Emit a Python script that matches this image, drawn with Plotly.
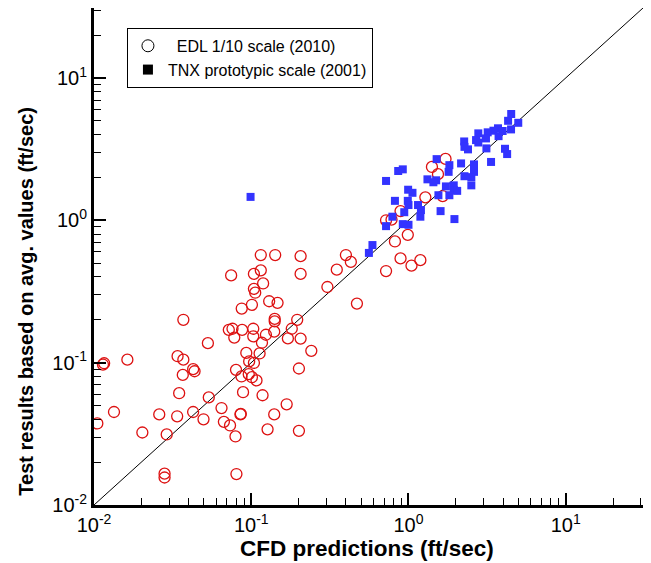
import plotly.graph_objects as go

# EDL 1/10 scale (2010) - open red circles
edl_x = [0.115, 0.142, 0.206, 0.40, 0.43, 0.0745, 0.104, 0.115, 0.206, 0.35,
         0.305, 0.119, 0.104, 0.106, 0.13, 0.147, 0.101, 0.087, 0.037, 0.141,
         0.141, 0.196, 0.072, 0.076, 0.0875, 0.103, 0.078, 0.103, 0.124, 0.14,
         0.181, 0.171, 0.206, 0.117, 0.053, 0.241, 0.113, 0.093, 0.034, 0.037,
         0.0163, 0.0114, 0.0116, 0.097, 0.104, 0.080, 0.201, 0.0427, 0.0436, 0.0367,
         0.0867, 0.0964, 0.101, 0.108, 0.0348, 0.0887, 0.118, 0.0537, 0.0134, 0.026,
         0.0338, 0.0427, 0.0647, 0.0854, 0.0858, 0.14, 0.168, 0.0497, 0.0105, 0.067,
         0.0733, 0.0203, 0.029, 0.0794, 0.127, 0.201, 0.0281, 0.0281, 0.0805,
         1.72, 1.41, 1.54, 1.28, 1.65, 0.89, 0.72, 0.78, 0.99, 0.82,
         0.89, 1.045, 1.19, 0.72, 0.47]
edl_y = [0.57, 0.57, 0.56, 0.57, 0.51, 0.41, 0.42, 0.445, 0.42, 0.45,
         0.34, 0.36, 0.33, 0.31, 0.27, 0.263, 0.255, 0.24, 0.20, 0.203,
         0.195, 0.20, 0.17, 0.173, 0.17, 0.173, 0.15, 0.153, 0.157, 0.165,
         0.173, 0.148, 0.1475, 0.138, 0.137, 0.121, 0.116, 0.117, 0.111, 0.105,
         0.105, 0.097, 0.099, 0.102, 0.0995, 0.089, 0.091, 0.090, 0.087, 0.082,
         0.080, 0.083, 0.079, 0.075, 0.061, 0.062, 0.059, 0.057, 0.045, 0.0433,
         0.042, 0.045, 0.048, 0.0433, 0.0437, 0.0433, 0.051, 0.040, 0.0374, 0.0384,
         0.0362, 0.0323, 0.0313, 0.0303, 0.034, 0.0332, 0.0166, 0.0156, 0.0165,
         2.70, 2.37, 2.11, 1.45, 1.48, 1.16, 1.0, 1.01, 0.79, 0.71,
         0.54, 0.48, 0.525, 0.44, 0.26]

# TNX prototypic scale (2001) - filled blue squares
tnx_x = [0.099, 4.5, 4.3, 4.99, 3.71, 3.97, 4.49, 3.47, 3.19, 2.78,
         3.74, 3.11, 2.78, 2.69, 2.26, 2.27, 2.39, 3.13, 4.11, 4.24,
         3.35, 1.51, 1.82, 2.16, 2.61, 0.86, 0.92, 1.80, 2.61, 2.27,
         2.51, 0.72, 1.32, 1.50, 1.44, 2.51, 1.73, 1.94, 1.94, 2.04,
         0.995, 1.06, 1.55, 1.82, 0.82, 0.99, 1.0, 1.15, 1.20, 0.94,
         1.60, 1.19, 0.79, 1.96, 0.92, 1.0, 0.72, 0.59, 0.56]
tnx_y = [1.46, 5.58, 5.0, 4.84, 4.43, 4.24, 4.35, 4.26, 4.15, 4.08,
         3.9, 3.76, 3.52, 3.66, 3.58, 3.28, 3.15, 3.2, 3.18, 2.92,
         2.57, 2.69, 2.44, 2.51, 2.47, 2.22, 2.28, 2.19, 2.19, 2.04,
         2.01, 1.89, 1.94, 1.91, 1.85, 1.76, 1.73, 1.76, 1.63, 1.61,
         1.64, 1.56, 1.50, 1.50, 1.37, 1.37, 1.28, 1.28, 1.18, 1.14,
         1.16, 1.06, 1.06, 1.02, 0.94, 0.93, 0.91, 0.67, 0.59]

axis_min = 0.01
axis_max = 31.0
major_vals = [0.01, 0.1, 1, 10]
major_text = ["10<sup>-2</sup>", "10<sup>-1</sup>", "10<sup>0</sup>", "10<sup>1</sup>"]
minor_vals = [m * d for d in [0.01, 0.1, 1, 10] for m in range(2, 10) if m * d < axis_max]

FONT = "Liberation Sans, Arial"

fig = go.Figure()

# y = x reference line
fig.add_trace(go.Scatter(x=[axis_min, axis_max], y=[axis_min, axis_max], mode="lines",
                         line=dict(color="black", width=1), showlegend=False, hoverinfo="skip"))

fig.add_trace(go.Scatter(x=edl_x, y=edl_y, mode="markers", showlegend=False,
                         marker=dict(symbol="circle-open", size=11, color="#dd1111",
                                     line=dict(width=1.3, color="#dd1111"))))
fig.add_trace(go.Scatter(x=tnx_x, y=tnx_y, mode="markers", showlegend=False,
                         marker=dict(symbol="square", size=8, color="#3333ff")))

# legend entries (black symbols as in the original)
fig.add_trace(go.Scatter(x=[None], y=[None], mode="markers",
                         name="\u00a0\u00a0EDL 1/10 scale (2010)",
                         marker=dict(symbol="circle-open", size=12, color="black",
                                     line=dict(width=1, color="black"))))
fig.add_trace(go.Scatter(x=[None], y=[None], mode="markers",
                         name="TNX prototypic scale (2001)",
                         marker=dict(symbol="square", size=10, color="black")))

axis_common = dict(
    type="log",
    range=[-2, 1.4914],
    automargin=False,
    tickmode="array",
    tickvals=major_vals,
    ticktext=major_text,
    ticks="inside",
    ticklen=12,
    tickwidth=2,
    tickcolor="black",
    showgrid=False,
    zeroline=False,
    showline=True,
    linewidth=3,
    linecolor="black",
    mirror=True,
    tickfont=dict(family=FONT, size=20, color="black"),
    minor=dict(tickmode="array", tickvals=minor_vals, ticks="inside", ticklen=7,
               tickwidth=1, tickcolor="black", showgrid=False),
)

fig.update_xaxes(**axis_common)
fig.update_yaxes(**axis_common)

fig.add_annotation(text="<b>CFD predictions (ft/sec)</b>", xref="paper", yref="paper",
                   x=0.498, y=-0.087, xanchor="center", yanchor="middle", showarrow=False,
                   font=dict(family=FONT, size=22.5, color="black"))
fig.add_annotation(text="<b>Test results based on avg. values (ft/sec)</b>", xref="paper", yref="paper",
                   x=-0.123, y=0.41, xanchor="center", yanchor="middle", showarrow=False,
                   textangle=-90, font=dict(family=FONT, size=20, color="black"))

# page body adds an 8px offset, so margins are reduced accordingly
fig.update_layout(
    width=651, height=563,
    margin=dict(l=86, r=16, t=0, b=66),
    plot_bgcolor="white",
    paper_bgcolor="white",
    legend=dict(x=0.06, y=0.96, xanchor="left", yanchor="top",
                bgcolor="white", bordercolor="black", borderwidth=1,
                font=dict(family=FONT, size=16, color="black"),
                itemwidth=30, tracegroupgap=0),
)

fig.write_html("out.html")
